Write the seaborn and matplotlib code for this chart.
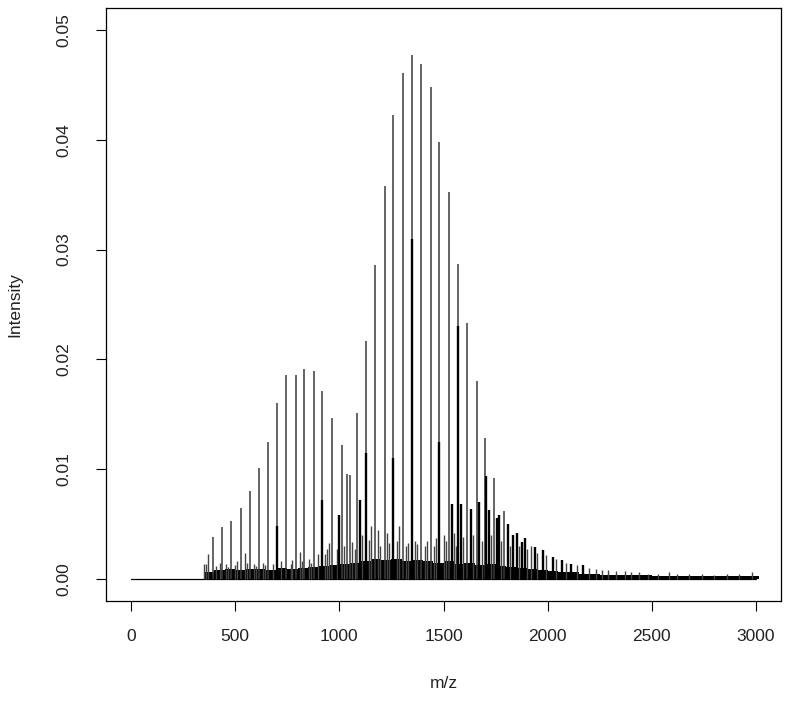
import numpy as np
import pandas as pd
import matplotlib
matplotlib.use("Agg")
import matplotlib.pyplot as plt
import seaborn as sns

# ------------------------------------------------------------------
# Dados lidos do espectro (m/z, intensidade)
# ------------------------------------------------------------------
scan_range = [0, 3000]
baseline_intensity = [0.0, 0.0]

# serie principal de picos (estados de carga)
major_mz = [392, 438, 480, 526, 572, 612, 658, 700, 745, 792, 832, 878, 918, 965,
            1011, 1037, 1051, 1086, 1128, 1171, 1218, 1259, 1304, 1347, 1392, 1439,
            1480, 1525, 1571, 1611, 1659, 1701, 1744, 1790]
major_int = [0.0038, 0.0047, 0.0053, 0.0065, 0.0080, 0.0101, 0.0125, 0.0160, 0.0186,
             0.0186, 0.0191, 0.0189, 0.0171, 0.0147, 0.0122, 0.0096, 0.0095, 0.0151,
             0.0217, 0.0286, 0.0358, 0.0423, 0.0461, 0.0477, 0.0469, 0.0448, 0.0398,
             0.0352, 0.0287, 0.0233, 0.0180, 0.0128, 0.0092, 0.0062]

# picos secundarios (serie sobreposta, tracos mais grossos)
second_mz = [700, 918, 998, 1098, 1128, 1259, 1347, 1480, 1539, 1571, 1584, 1630,
             1672, 1703, 1718, 1758, 1765, 1811, 1832, 1851, 1876, 1889, 1938, 1976,
             2024, 2069, 2110, 2171]
second_int = [0.0048, 0.0072, 0.0058, 0.0072, 0.0115, 0.0110, 0.0310, 0.0125, 0.0068,
              0.0230, 0.0068, 0.0064, 0.0070, 0.0094, 0.0063, 0.0056, 0.0058, 0.0050,
              0.0040, 0.0042, 0.0034, 0.0037, 0.0029, 0.0026, 0.0020, 0.0017, 0.0014,
              0.0013]

# picos menores
minor_mz = [352, 360, 371, 410, 425, 455, 465, 500, 510, 546, 555, 590, 600, 635, 645,
            680, 720, 768, 775, 810, 820, 855, 865, 898, 931, 940, 952, 988, 1020,
            1060, 1075, 1110, 1140, 1150, 1185, 1195, 1230, 1240, 1275, 1285, 1320,
            1330, 1365, 1375, 1410, 1420, 1455, 1465, 1500, 1510, 1550, 1560, 1595,
            1640, 1685, 1727, 1775, 1820, 1860, 1900, 1920, 1950, 1990, 2040, 2090,
            2140, 2200, 2230, 2260, 2290, 2330, 2370, 2400, 2440, 2480, 2530, 2580,
            2620, 2680, 2740, 2800, 2860, 2920, 2980]
minor_int = [0.0014, 0.0014, 0.0023, 0.0012, 0.0015, 0.0014, 0.0011, 0.0013, 0.0016,
             0.0024, 0.0015, 0.0014, 0.0012, 0.0015, 0.0013, 0.0014, 0.0016, 0.0014,
             0.0017, 0.0025, 0.0016, 0.0018, 0.0015, 0.0023, 0.0023, 0.0027, 0.0033,
             0.0027, 0.0030, 0.0034, 0.0027, 0.0040, 0.0036, 0.0048, 0.0045, 0.0030,
             0.0042, 0.0033, 0.0035, 0.0048, 0.0030, 0.0033, 0.0035, 0.0032, 0.0030,
             0.0035, 0.0030, 0.0037, 0.0040, 0.0035, 0.0042, 0.0030, 0.0038, 0.0040,
             0.0035, 0.0040, 0.0035, 0.0030, 0.0030, 0.0027, 0.0030, 0.0024, 0.0022,
             0.0018, 0.0015, 0.0013, 0.0010, 0.0009, 0.0008, 0.0008, 0.0007, 0.0007,
             0.0006, 0.0006, 0.0005, 0.0005, 0.0006, 0.0005, 0.0005, 0.0005, 0.0004,
             0.0005, 0.0005, 0.0006]

# nivel de ruido (massa preta junto a linha de base), por faixa de 50 m/z
noise_mz = [350, 400, 450, 500, 550, 600, 650, 700, 750, 800, 850, 900, 950, 1000,
            1050, 1100, 1150, 1200, 1250, 1300, 1350, 1400, 1450, 1500, 1550, 1600,
            1650, 1700, 1750, 1800, 1850, 1900, 1950, 2000, 2050, 2100, 2150, 2200,
            2250, 2300, 2350, 2400, 2450, 2500, 2550, 2600, 2650, 2700, 2750, 2800,
            2850, 2900, 2950, 2990]
noise_level = [0.0006, 0.0008, 0.0009, 0.0008, 0.0009, 0.0009, 0.0008, 0.0010, 0.0009,
               0.0010, 0.0011, 0.0012, 0.0013, 0.0014, 0.0015, 0.0016, 0.0018, 0.0017,
               0.0018, 0.0016, 0.0017, 0.0016, 0.0015, 0.0016, 0.0014, 0.0015, 0.0013,
               0.0014, 0.0012, 0.0011, 0.0010, 0.0009, 0.0008, 0.0007, 0.0006, 0.0006,
               0.0005, 0.0005, 0.0004, 0.0004, 0.0004, 0.0004, 0.0004, 0.0003, 0.0003,
               0.0003, 0.0003, 0.0003, 0.0003, 0.0003, 0.0003, 0.0003, 0.0003, 0.0003]

# ------------------------------------------------------------------
# Grafico
# ------------------------------------------------------------------
sns.set_theme(style="ticks")
plt.rcParams['font.family'] = ['Liberation Sans', 'DejaVu Sans']

fig = plt.figure(figsize=(7.88, 7.05), dpi=100)
ax = fig.add_axes([106 / 788, 104 / 705, 675 / 788, 593 / 705])

noise = pd.DataFrame({'mz': noise_mz, 'intensity': noise_level})
sns.histplot(data=noise, x='mz', weights='intensity', bins=noise_mz + [3015],
             element='bars', fill=True, color='black', alpha=1, linewidth=0, ax=ax)

sns.lineplot(x=scan_range, y=baseline_intensity, color='black', linewidth=0.9, ax=ax)

ax.vlines(minor_mz, 0, minor_int, color='#444444', linewidth=1.0)
ax.vlines(major_mz, 0, major_int, color='#3a3a3a', linewidth=1.1)
ax.vlines(second_mz, 0, second_int, color='black', linewidth=1.7)

ax.set_xlim(-120, 3120)
ax.set_ylim(-0.002, 0.052)
ax.set_xticks([0, 500, 1000, 1500, 2000, 2500, 3000])
ax.set_yticks([0.00, 0.01, 0.02, 0.03, 0.04, 0.05])
ax.set_yticklabels(['0.00', '0.01', '0.02', '0.03', '0.04', '0.05'],
                   rotation=90, va='center')

ax.tick_params(axis='both', direction='out', length=7, width=0.8, color='black',
               labelsize=12.5, labelcolor='#222222')
ax.tick_params(axis='x', pad=13)
ax.tick_params(axis='y', pad=18)

for s in ax.spines.values():
    s.set_color('black')
    s.set_linewidth(0.9)

ax.set_xlabel('m/z', fontsize=12.5, color='#222222')
ax.set_ylabel('Intensity', fontsize=12.5, color='#222222')
ax.xaxis.set_label_coords(0.5, -82 / 593)
ax.xaxis.label.set_va('center')
ax.yaxis.set_label_coords(-91 / 675, 0.5)
ax.yaxis.label.set_va('center')
ax.grid(False)

fig.savefig('out.png', dpi=100, facecolor='white')
